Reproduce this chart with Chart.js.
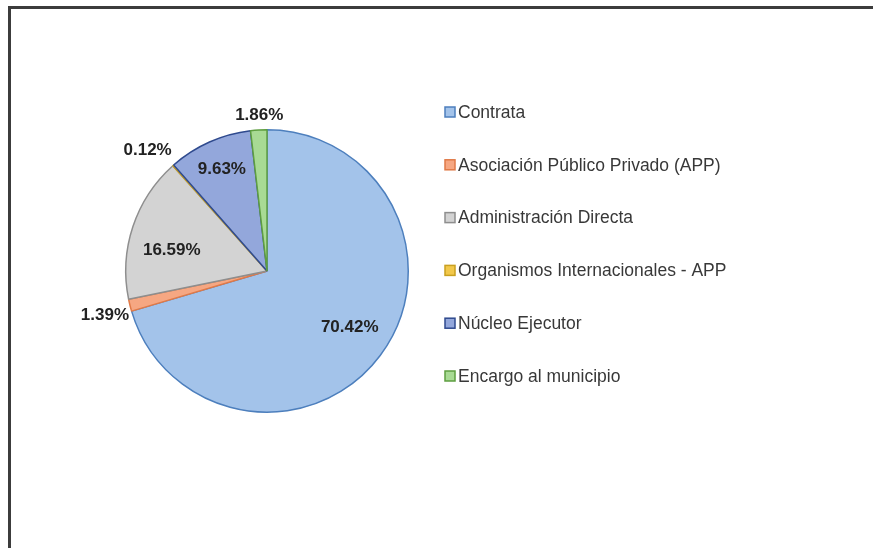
<!DOCTYPE html>
<html>
<head>
<meta charset="utf-8">
<script src="https://cdn.jsdelivr.net/npm/chart.js@4.4.1/dist/chart.umd.min.js"></script>
<style>
  body { margin: 0; background: #fff; }
  #wrap { position: relative; width: 873px; height: 548px; overflow: hidden; }
  #frame { position: absolute; left: 8px; top: 6px; width: 900px; height: 600px;
           border-left: 3px solid #3c3c3c; border-top: 3px solid #3c3c3c; }
  #chart { position: absolute; left: 0; top: 0; }
</style>
</head>
<body>
<div id="wrap">
  <div id="frame"></div>
  <canvas id="chart" width="873" height="548"></canvas>
</div>
<script>
// Datos del gráfico (modalidad de ejecución)
const categorias = [
  'Contrata',
  'Asociación Público Privado (APP)',
  'Administración Directa',
  'Organismos Internacionales - APP',
  'Núcleo Ejecutor',
  'Encargo al municipio'
];
const porcentajes = [70.42, 1.39, 16.59, 0.12, 9.63, 1.86];
const etiquetas = ['70.42%', '1.39%', '16.59%', '0.12%', '9.63%', '1.86%'];

// Colores
const rellenos = ['#a3c3ea', '#f6a782', '#d3d3d3', '#f2c84b', '#93a7db', '#a8da94'];
const bordes   = ['#4d7fbd', '#e07a48', '#8e8e8e', '#c9a020', '#2f4a8e', '#5e9e40'];

// Ajuste de la posición de cada etiqueta (factor de radio, giro en grados)
const radioEtiqueta = [0.71, 1.19, 0.69, 1.20, 0.785, 1.107];
const giroEtiqueta  = [-2.3, -1.4, -6, -3.2, 0, 0.5];

// Plugin: etiquetas de porcentaje sobre cada sector
const etiquetasPlugin = {
  id: 'etiquetas',
  afterDatasetsDraw(chart) {
    const ctx = chart.ctx;
    const meta = chart.getDatasetMeta(0);
    ctx.save();
    ctx.font = 'bold 17px "Liberation Sans"';
    ctx.fillStyle = '#222222';
    ctx.textAlign = 'center';
    ctx.textBaseline = 'middle';
    meta.data.forEach((arc, i) => {
      const p = arc.getProps(['x', 'y', 'startAngle', 'endAngle', 'outerRadius'], true);
      const ang = (p.startAngle + p.endAngle) / 2 + giroEtiqueta[i] * Math.PI / 180;
      const d = p.outerRadius * radioEtiqueta[i];
      ctx.fillText(etiquetas[i], p.x + Math.cos(ang) * d, p.y + Math.sin(ang) * d);
    });
    ctx.restore();
  }
};

// Plugin: leyenda a la derecha
const leyendaPlugin = {
  id: 'leyenda',
  afterDraw(chart) {
    const ctx = chart.ctx;
    const x0 = 445, y0 = 112, paso = 52.8;
    ctx.save();
    ctx.font = '17.5px "Liberation Sans"';
    ctx.textBaseline = 'middle';
    categorias.forEach((nombre, i) => {
      const y = y0 + i * paso;
      ctx.fillStyle = rellenos[i];
      ctx.fillRect(x0, y - 5, 10, 10);
      ctx.strokeStyle = bordes[i];
      ctx.lineWidth = 1.5;
      ctx.strokeRect(x0, y - 5, 10, 10);
      ctx.fillStyle = '#383838';
      ctx.fillText(nombre, x0 + 13, y + 1);
    });
    ctx.restore();
  }
};

window.addEventListener('load', onload);

function onload(event) {
  const ctx = document.getElementById('chart').getContext('2d');
  new Chart(ctx, {
    type: 'pie',
    data: {
      labels: categorias,
      datasets: [{
        data: porcentajes,
        backgroundColor: rellenos,
        borderColor: bordes,
        borderWidth: 1.5
      }]
    },
    options: {
      responsive: false,
      devicePixelRatio: 1,
      animation: false,
      layout: {
        padding: { left: 125, top: 129, right: 464, bottom: 135 }
      },
      plugins: {
        legend: { display: false },
        tooltip: { enabled: false }
      }
    },
    plugins: [etiquetasPlugin, leyendaPlugin]
  });
}
</script>
</body>
</html>
